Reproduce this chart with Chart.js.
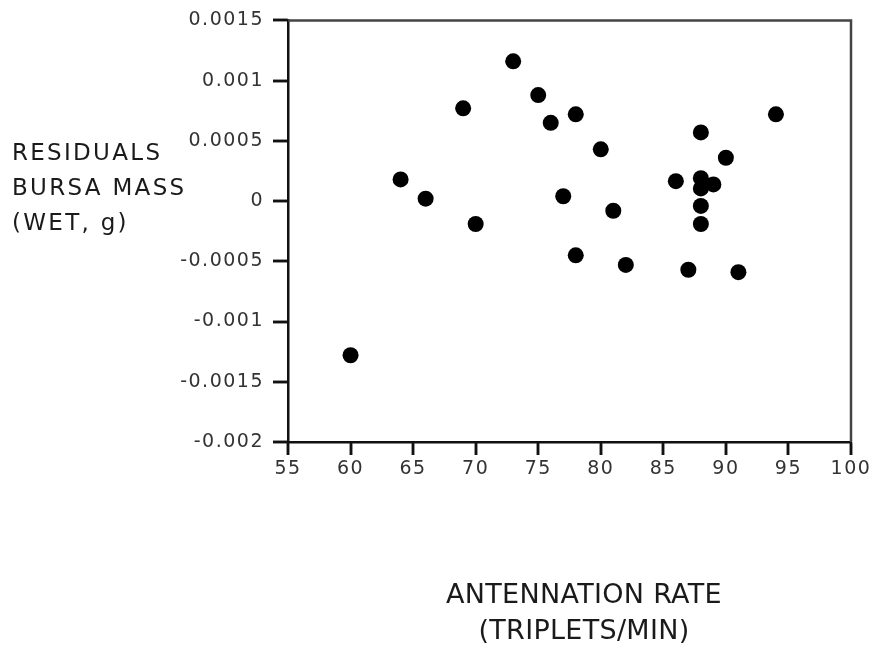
<!DOCTYPE html>
<html>
<head>
<meta charset="utf-8">
<script src="https://cdn.jsdelivr.net/npm/chart.js@4/dist/chart.umd.min.js"></script>
<style>
  html, body { margin: 0; padding: 0; background: #fff; }
  .wrap { position: relative; width: 873px; height: 652px; }
  canvas { position: absolute; left: 0; top: 0; }
  .y-title {
    position: absolute; left: 12px; top: 135px;
    font: 23px 'DejaVu Sans', sans-serif; line-height: 35px;
    letter-spacing: 2.3px; color: #1a1a1a;
  }
  .x-title {
    position: absolute; left: 384px; width: 400px; top: 576px;
    font: 27px 'DejaVu Sans', sans-serif; line-height: 36px;
    letter-spacing: 0.3px; text-align: center; color: #1a1a1a;
  }
</style>
</head>
<body>
<div class="wrap">
  <canvas id="chart" width="873" height="652"></canvas>
  <div class="y-title">RESIDUALS<br>BURSA MASS<br>(WET, g)</div>
  <div class="x-title">ANTENNATION RATE<br>(TRIPLETS/MIN)</div>
</div>
<script>
// antennation rate (triplets/min)
const rate = [60, 64, 66, 69, 70, 73, 75, 76, 77, 78, 78, 80, 81, 82,
  86, 87, 88, 88, 88, 88, 88, 89, 90, 91, 94]
// residual bursa mass (wet, g)
const residual = [-0.00128, 0.00018, 0.00002, 0.00077, -0.00019, 0.00116, 0.00088, 0.00065,
  0.00004, 0.00072, -0.00045, 0.00043, -0.00008, -0.00053,
  0.000165, -0.00057, 0.00057, 0.00019, 0.000105, -0.00004, -0.00019, 0.000138, 0.00036, -0.00059, 0.00072]

const xTicks = [55, 60, 65, 70, 75, 80, 85, 90, 95, 100]
const yTicks = [-0.002, -0.0015, -0.001, -0.0005, 0, 0.0005, 0.001, 0.0015]
const yTickLabels = ['-0.002', '-0.0015', '-0.001', '-0.0005', '0', '0.0005', '0.001', '0.0015']

const points = rate.map((x, i) => ({ x, y: residual[i] }))

// top/right frame plus the outward tick marks
const frame = {
  id: 'frame',
  beforeDraw(chart) {
    chart.ctx.letterSpacing = '1.5px'
  },
  afterDraw(chart) {
    const { ctx, chartArea: a, scales } = chart
    ctx.save()
    ctx.strokeStyle = '#444'
    ctx.lineWidth = 2.5
    ctx.beginPath()
    ctx.moveTo(a.left, a.top)
    ctx.lineTo(a.right, a.top)
    ctx.lineTo(a.right, a.bottom)
    ctx.stroke()

    ctx.strokeStyle = '#111'
    ctx.lineWidth = 2.5
    ctx.beginPath()
    scales.x.ticks.forEach((t) => {
      const px = Math.round(scales.x.getPixelForValue(t.value))
      ctx.moveTo(px, a.bottom)
      ctx.lineTo(px, a.bottom + 13)
    })
    scales.y.ticks.forEach((t) => {
      const py = Math.round(scales.y.getPixelForValue(t.value))
      ctx.moveTo(a.left - 15, py)
      ctx.lineTo(a.left, py)
    })
    ctx.stroke()
    ctx.restore()
  },
}

const tickFont = { family: "'DejaVu Sans', sans-serif", size: 19 }

const axisGrid = (len) => ({
  display: true,
  drawOnChartArea: false,
  drawTicks: true,
  tickLength: len,
  color: '#111',
  lineWidth: 2,
  tickColor: '#111',
  tickWidth: 2.5,
})

new Chart(document.getElementById('chart'), {
  type: 'scatter',
  data: {
    datasets: [{
      data: points,
      backgroundColor: '#000',
      borderWidth: 0,
      pointRadius: 8,
      pointHoverRadius: 8,
    }],
  },
  options: {
    responsive: false,
    animation: false,
    events: [],
    layout: { padding: { top: 20, right: 22, left: 0, bottom: 0 } },
    plugins: { legend: { display: false }, tooltip: { enabled: false } },
    scales: {
      x: {
        type: 'linear',
        min: 55,
        max: 100,
        afterFit: (s) => { s.height = 210 },
        afterBuildTicks: (s) => { s.ticks = xTicks.map((v) => ({ value: v })) },
        grid: axisGrid(13),
        border: { display: true, color: '#111', width: 2.5 },
        ticks: { font: tickFont, color: '#333', padding: 3, maxRotation: 0 },
      },
      y: {
        type: 'linear',
        min: -0.002,
        max: 0.0015,
        afterFit: (s) => { s.width = 288 },
        afterBuildTicks: (s) => { s.ticks = yTicks.map((v) => ({ value: v })) },
        grid: axisGrid(15),
        border: { display: true, color: '#111', width: 2.5 },
        ticks: {
          font: tickFont,
          color: '#333',
          padding: 9,
          callback: (v, i) => yTickLabels[i],
        },
      },
    },
  },
  plugins: [frame],
})
</script>
</body>
</html>
